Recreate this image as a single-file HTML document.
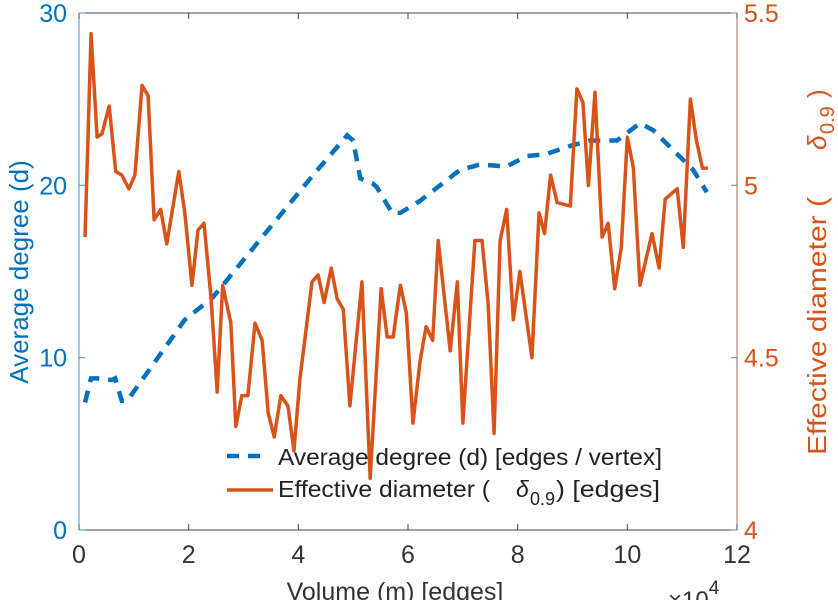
<!DOCTYPE html>
<html><head><meta charset="utf-8"><style>
body{margin:0;background:#fff;}
svg{display:block;font-family:"Liberation Sans",sans-serif;}
</style></head><body>
<svg id="chart" width="838" height="600"></svg>
<script>
const degX=[0.11,0.22,0.33,0.6,0.66,0.78,0.88,1.93,2.44,4.27,4.89,5.0,5.13,5.36,5.43,5.71,5.86,6.22,6.95,7.31,7.8,8.17,8.51,8.97,9.33,9.81,10.23,10.47,11.2,11.45];
const degY=[7.4,8.8,8.8,8.7,8.8,7.5,7.5,12.2,13.5,20.6,22.9,22.6,20.4,20.1,19.9,18.4,18.4,19.1,20.9,21.2,21.1,21.7,21.8,22.3,22.6,22.6,23.6,23.2,20.9,19.6];
const diaX=[0.11,0.22,0.33,0.42,0.55,0.67,0.78,0.91,1.02,1.15,1.26,1.37,1.49,1.6,1.82,1.93,2.06,2.17,2.28,2.41,2.52,2.62,2.77,2.86,2.97,3.08,3.21,3.34,3.45,3.56,3.68,3.81,3.92,4.03,4.25,4.36,4.47,4.6,4.71,4.82,4.94,5.16,5.31,5.51,5.62,5.73,5.86,5.97,6.09,6.22,6.33,6.45,6.55,6.77,6.9,7.0,7.22,7.35,7.46,7.57,7.68,7.8,7.92,8.04,8.26,8.39,8.49,8.6,8.72,8.96,9.08,9.19,9.29,9.41,9.54,9.65,9.77,9.89,10.0,10.11,10.23,10.45,10.58,10.69,10.91,11.02,11.15,11.26,11.37,11.47];
const diaY=[4.85,5.44,5.14,5.15,5.23,5.04,5.03,4.99,5.03,5.29,5.26,4.9,4.93,4.83,5.04,4.92,4.71,4.87,4.89,4.67,4.4,4.71,4.6,4.3,4.39,4.39,4.6,4.55,4.34,4.27,4.39,4.36,4.23,4.44,4.72,4.74,4.66,4.76,4.67,4.64,4.36,4.72,4.15,4.7,4.56,4.56,4.71,4.63,4.31,4.49,4.59,4.55,4.84,4.52,4.72,4.31,4.84,4.84,4.66,4.28,4.84,4.93,4.61,4.75,4.5,4.92,4.86,5.03,4.95,4.94,5.28,5.24,5.0,5.27,4.85,4.89,4.7,4.82,5.14,5.05,4.71,4.86,4.76,4.96,4.99,4.82,5.25,5.13,5.05,5.05];
const xTicks=[0,2,4,6,8,10,12];
const lTicks=[0,10,20,30];
const rTicks=[4,4.5,5,5.5];
const X0=79,X1=737,Y0=530,Y1=13;
const sx=v=>X0+(v/12)*(X1-X0);
const sl=v=>Y0-(v/30)*(Y0-Y1);
const sr=v=>Y0-((v-4)/1.5)*(Y0-Y1);
const svg=document.getElementById('chart');
const NS='http://www.w3.org/2000/svg';
function mk(tag,at,parent){const e=document.createElementNS(NS,tag);for(const k in at)e.setAttribute(k,at[k]);(parent||svg).appendChild(e);return e;}
const BLUE='#0072BD',ORANGE='#D95319';
let e;
e=mk('line',{x1:X0,y1:Y1,x2:X1,y2:Y1,stroke:'#444',"stroke-width":1});


e=mk('line',{x1:X0,y1:Y0,x2:X1,y2:Y0,stroke:'#444',"stroke-width":1});


e=mk('line',{x1:X0,y1:Y1,x2:X0,y2:Y0,stroke:'#3a95d0',"stroke-width":1});


e=mk('line',{x1:X1,y1:Y1,x2:X1,y2:Y0,stroke:'#a07060',"stroke-width":1});


xTicks.forEach(t=>{
  mk('line',{x1:sx(t),y1:Y0,x2:sx(t),y2:Y0-6,stroke:'#444'});
  mk('line',{x1:sx(t),y1:Y1,x2:sx(t),y2:Y1+6,stroke:'#444'});
  e=mk('text',{x:sx(t),y:Y0+33,"text-anchor":"middle","font-size":25,fill:'#333'});
  e.textContent=t;
  
  
});
lTicks.forEach(t=>{
  mk('line',{x1:X0,y1:sl(t),x2:X0+6,y2:sl(t),stroke:'#3a95d0'});
  e=mk('text',{x:X0-12,y:sl(t)+9,"text-anchor":"end","font-size":25,fill:BLUE});
  e.textContent=t;
  
  
});
rTicks.forEach(t=>{
  mk('line',{x1:X1,y1:sr(t),x2:X1-6,y2:sr(t),stroke:'#a07060'});
  e=mk('text',{x:X1+7,y:sr(t)+9,"font-size":25,fill:ORANGE});
  e.textContent=t;
  
  
});
e=mk('polyline',{points:degX.map((v,i)=>sx(v)+','+sl(degY[i])).join(' '),fill:'none',stroke:BLUE,"stroke-width":4.5,"stroke-dasharray":"12,9"});


e=mk('polyline',{points:diaX.map((v,i)=>sx(v)+','+sr(diaY[i])).join(' '),fill:'none',stroke:ORANGE,"stroke-width":3.5,"stroke-linejoin":"round"});


</script>
<svg style="position:absolute;left:0;top:0" width="838" height="600">
<g font-family="Liberation Sans, sans-serif">
<g>
<line x1="227" y1="456" x2="265" y2="456" stroke="#0072BD" stroke-width="4.5" stroke-dasharray="12,9"/>
<text x="278" y="465" font-size="23" fill="#222" textLength="384" lengthAdjust="spacingAndGlyphs">Average degree (d) [edges / vertex]</text>
<line x1="227" y1="490" x2="273" y2="490" stroke="#D95319" stroke-width="3.5"/>
<text x="278" y="497" font-size="23" fill="#222" textLength="212" lengthAdjust="spacingAndGlyphs">Effective diameter (</text>
<text x="516" y="497" font-size="23" fill="#222" font-style="italic">δ</text>
<text x="530" y="505" font-size="18" fill="#222">0.9</text>
<text x="556" y="497" font-size="23" fill="#222" textLength="104" lengthAdjust="spacingAndGlyphs">) [edges]</text>
</g>
<text transform="translate(28,272) rotate(-90)" text-anchor="middle" font-size="26" fill="#0072BD">Average degree (d)</text>
<g transform="translate(826,0) rotate(-90)" font-size="26" fill="#D95319">
<text x="-455" y="0" textLength="258" lengthAdjust="spacingAndGlyphs">Effective diameter (</text>
<text x="-150" y="0" font-style="italic">δ</text>
<text x="-134" y="8" font-size="20">0.9</text>
<text x="-98" y="0">)</text>
</g>
<text x="395" y="600" text-anchor="middle" font-size="25" fill="#333">Volume (m) [edges]</text>
<text x="668" y="608" font-size="24" fill="#333">×10<tspan font-size="19" dy="-14">4</tspan></text>
</g>
</svg>
</body></html>
